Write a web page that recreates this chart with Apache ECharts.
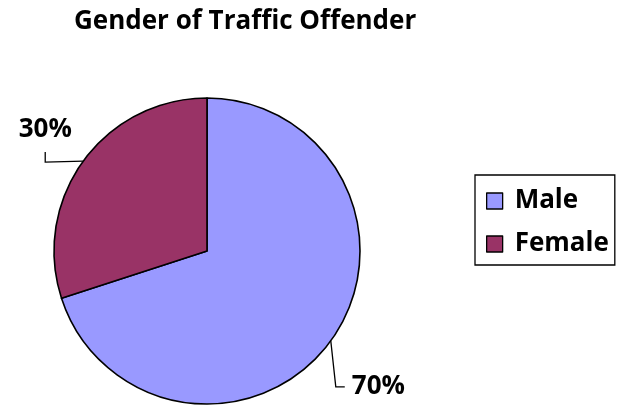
<!DOCTYPE html>
<html>
<head>
<meta charset="utf-8">
<script src="https://cdn.jsdelivr.net/npm/echarts@6/dist/echarts.min.js"></script>
<style>
  html, body { margin: 0; padding: 0; background: #fff; }
  #chart { width: 618px; height: 406px; }
</style>
</head>
<body>
<div id="chart"></div>
<script>
// gender split of traffic offenders (percent)
var genders = ['Male', 'Female'];
var shares = [70, 30];
var sliceColors = ['#9999FF', '#993366'];

var font = '"Open Sans", "DejaVu Sans", sans-serif';

var pieData = genders.map(function (name, i) {
  return { name: name, value: shares[i], itemStyle: { color: sliceColors[i] } };
});

var option = {
  animation: false,
  title: {
    text: 'Gender of Traffic Offender',
    left: 74,
    top: 9,
    padding: 0,
    textStyle: { fontFamily: font, fontSize: 26, fontWeight: 'bold', color: '#000' }
  },
  legend: {
    orient: 'vertical',
    left: 475,
    top: 175,
    padding: [13, 6, 8, 11],
    borderColor: '#000',
    borderWidth: 1.3,
    borderRadius: 0,
    itemWidth: 16,
    itemHeight: 16,
    itemGap: 17,
    icon: 'rect',
    itemStyle: { borderColor: '#000', borderWidth: 1.3 },
    selectedMode: false,
    textStyle: {
      fontFamily: font, fontSize: 26, fontWeight: 'bold', color: '#000',
      padding: [0, 0, 0, 7]
    },
    data: genders
  },
  series: [{
    type: 'pie',
    center: [207, 251],
    radius: 153,
    startAngle: 90,
    clockwise: true,
    emphasis: { disabled: true },
    itemStyle: { borderColor: '#000', borderWidth: 1.6 },
    label: {
      show: true,
      position: 'outside',
      formatter: '{d}%',
      overflow: 'none',
      fontFamily: font, fontSize: 26, fontWeight: 'bold', color: '#000'
    },
    labelLine: {
      show: true,
      length: 10,
      length2: 10,
      lineStyle: { color: '#000', width: 1.3 }
    },
    // leader lines bent the Excel way: out along the edge, then up/down to the label
    labelLayout: function (params) {
      var p = params.labelLinePoints;
      if (!p) return {};
      var s = p[0];
      if (params.dataIndex === 1) {
        var cx = s[0] - 38;
        return {
          x: cx, y: s[1] - 18,
          align: 'center', verticalAlign: 'bottom',
          labelLinePoints: [s, [cx, s[1] + 1], [cx, s[1] - 9]]
        };
      }
      var bx = s[0] + 5, by = s[1] + 46;
      return {
        x: bx + 16, y: by,
        align: 'left', verticalAlign: 'middle',
        labelLinePoints: [s, [bx, by], [bx + 9, by]]
      };
    },
    data: pieData
  }]
};

echarts.init(document.getElementById('chart'), null, { renderer: 'canvas' }).setOption(option);
</script>
</body>
</html>
